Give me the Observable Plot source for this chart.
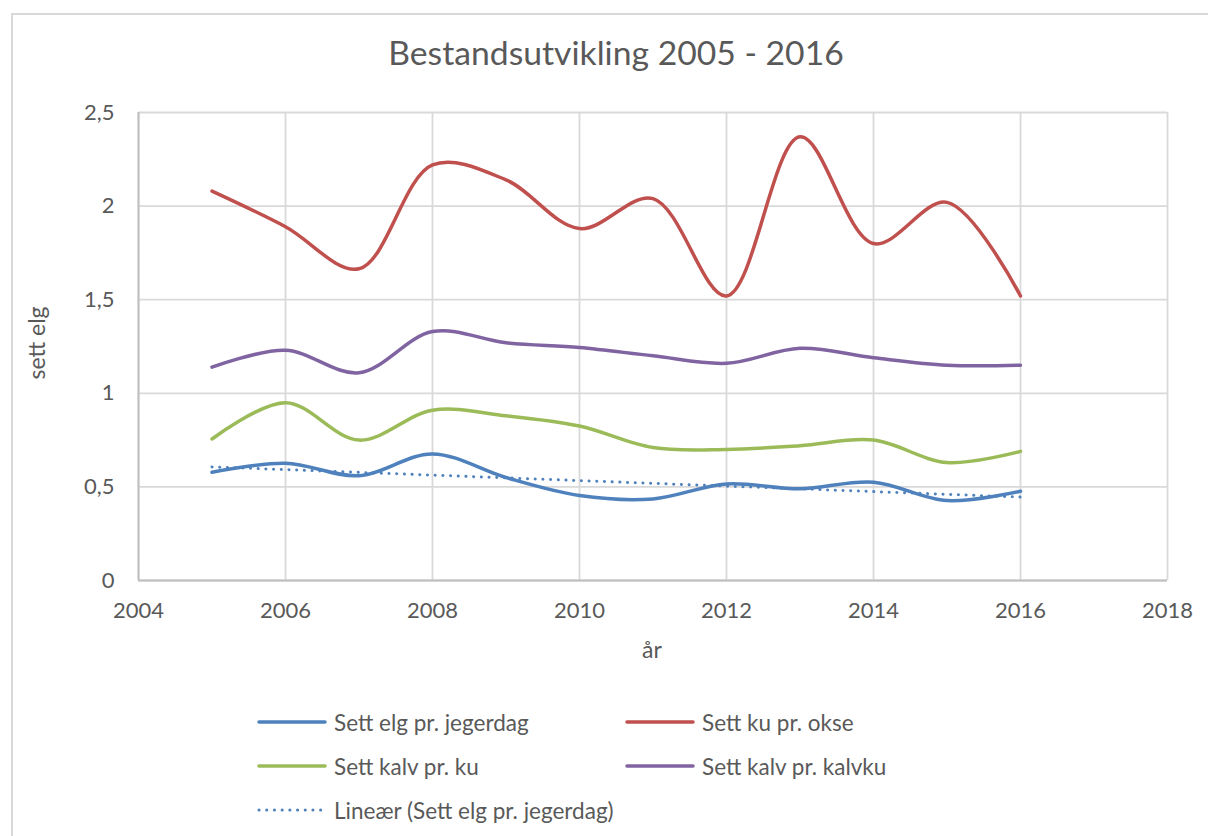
<!DOCTYPE html>
<html>
<head>
<meta charset="utf-8">
<script src="https://cdn.jsdelivr.net/npm/d3@7"></script>
<script src="https://cdn.jsdelivr.net/npm/@observablehq/plot@0.6"></script>
<style>
  body { margin: 0; background: #fff; }
  #wrap { position: relative; width: 1208px; height: 836px; overflow: hidden; font-family: Lato, "Open Sans", sans-serif; color: #595959; }
  #frame { position: absolute; left: 11px; top: 13px; width: 1220px; height: 900px; border: 2px solid #d9d9d9; box-sizing: border-box; }
  #title { position: absolute; left: 0; top: 32px; width: 1232px; text-align: center; font-size: 33.7px; }
  #chart { position: absolute; left: 0; top: 90px; }
  .axlabel { position: absolute; font-size: 23px; line-height: 1; white-space: nowrap; transform: translate(-50%, -50%); }
  #ylab { transform: translate(-50%, -50%) rotate(-90deg); }
  .lg { position: absolute; display: flex; align-items: center; font-size: 22.5px; height: 30px; }
  .lg svg { margin-right: 7px; }
</style>
</head>
<body>
<div id="wrap">
  <div id="frame"></div>
  <div id="title">Bestandsutvikling 2005 - 2016</div>
  <div id="chart"></div>
  <div id="xlab" class="axlabel" style="left:652px; top:649px;">år</div>
  <div id="ylab" class="axlabel" style="left:36px; top:343px;">sett elg</div>
  <div id="legend"></div>
</div>
<script>
const years = [2005, 2006, 2007, 2008, 2009, 2010, 2011, 2012, 2013, 2014, 2015, 2016];
const settElgPrJegerdag = [0.578, 0.626, 0.56, 0.676, 0.55, 0.454, 0.436, 0.516, 0.49, 0.525, 0.427, 0.477];
const settKuPrOkse      = [2.08, 1.89, 1.665, 2.22, 2.14, 1.88, 2.04, 1.52, 2.37, 1.80, 2.02, 1.52];
const settKalvPrKu      = [0.756, 0.95, 0.75, 0.91, 0.88, 0.825, 0.71, 0.70, 0.72, 0.75, 0.63, 0.69];
const settKalvPrKalvku  = [1.14, 1.23, 1.11, 1.33, 1.27, 1.245, 1.20, 1.16, 1.24, 1.19, 1.15, 1.15];

const seriesNames = ["Sett elg pr. jegerdag", "Sett ku pr. okse", "Sett kalv pr. ku", "Sett kalv pr. kalvku"];
const seriesValues = [settElgPrJegerdag, settKuPrOkse, settKalvPrKu, settKalvPrKalvku];
const seriesColors = ["#4f81bd", "#c0504d", "#9bbb59", "#8064a2"];
const trendName = "Lineær (Sett elg pr. jegerdag)";

const xTicks = [2004, 2006, 2008, 2010, 2012, 2014, 2016, 2018];
const yTicks = [0, 0.5, 1, 1.5, 2, 2.5];

const rows = seriesNames.flatMap((name, i) =>
  years.map((year, j) => ({ series: name, year, value: seriesValues[i][j] })));
const blueRows = rows.filter(d => d.series === seriesNames[0]);

const fmtY = d => String(d).replace(".", ",");

const chart = Plot.plot({
  width: 1208,
  height: 575,
  marginLeft: 138,
  marginRight: 41,
  marginTop: 22,
  marginBottom: 85,
  style: { fontFamily: "Lato, 'Open Sans', sans-serif", fontSize: "22px", color: "#595959", background: "transparent" },
  x: { domain: [2004, 2018], ticks: xTicks, tickFormat: d => String(d) },
  y: { domain: [0, 2.5], ticks: yTicks, tickFormat: fmtY },
  color: { domain: seriesNames, range: seriesColors },
  marks: [
    Plot.gridX(xTicks, { stroke: "#d9d9d9", strokeOpacity: 1, strokeWidth: 1.8 }),
    Plot.gridY(yTicks, { stroke: "#d9d9d9", strokeOpacity: 1, strokeWidth: 1.8 }),
    Plot.ruleX([2004], { stroke: "#bfbfbf", strokeWidth: 2 }),
    Plot.ruleY([0], { stroke: "#bfbfbf", strokeWidth: 2 }),
    Plot.axisX({ ticks: xTicks, tickSize: 0, tickPadding: 22, label: null, tickFormat: d => String(d), fill: "#595959", fontSize: 22 }),
    Plot.axisY({ ticks: yTicks, tickSize: 0, tickPadding: 24, label: null, tickFormat: fmtY, fill: "#595959", fontSize: 22 }),
    Plot.line(rows, { x: "year", y: "value", stroke: "series", z: "series", curve: "catmull-rom", strokeWidth: 3.5, strokeLinecap: "round", strokeLinejoin: "round" }),
    Plot.linearRegressionY(blueRows, { x: "year", y: "value", ci: 0, stroke: "#4f81bd", strokeWidth: 3, strokeDasharray: "0.1 7.6", strokeLinecap: "round" })
  ]
});
document.getElementById("chart").appendChild(chart);

// Legend
const legendItems = [
  { name: seriesNames[0], color: seriesColors[0], dash: null, left: 257, top: 707 },
  { name: seriesNames[1], color: seriesColors[1], dash: null, left: 625, top: 707 },
  { name: seriesNames[2], color: seriesColors[2], dash: null, left: 257, top: 751 },
  { name: seriesNames[3], color: seriesColors[3], dash: null, left: 625, top: 751 },
  { name: trendName, color: seriesColors[0], dash: "0.1 7.6", left: 257, top: 795 }
];
const lg = document.getElementById("legend");
for (const it of legendItems) {
  const div = document.createElement("div");
  div.className = "lg";
  div.style.left = it.left + "px";
  div.style.top = it.top + "px";
  const dash = it.dash ? ` stroke-dasharray="${it.dash}" stroke-width="3"` : ` stroke-width="3.5"`;
  div.innerHTML = `<svg width="70" height="8"><line x1="2" y1="4" x2="68" y2="4" stroke="${it.color}" stroke-linecap="round"${dash}/></svg><span>${it.name}</span>`;
  lg.appendChild(div);
}
</script>
</body>
</html>
